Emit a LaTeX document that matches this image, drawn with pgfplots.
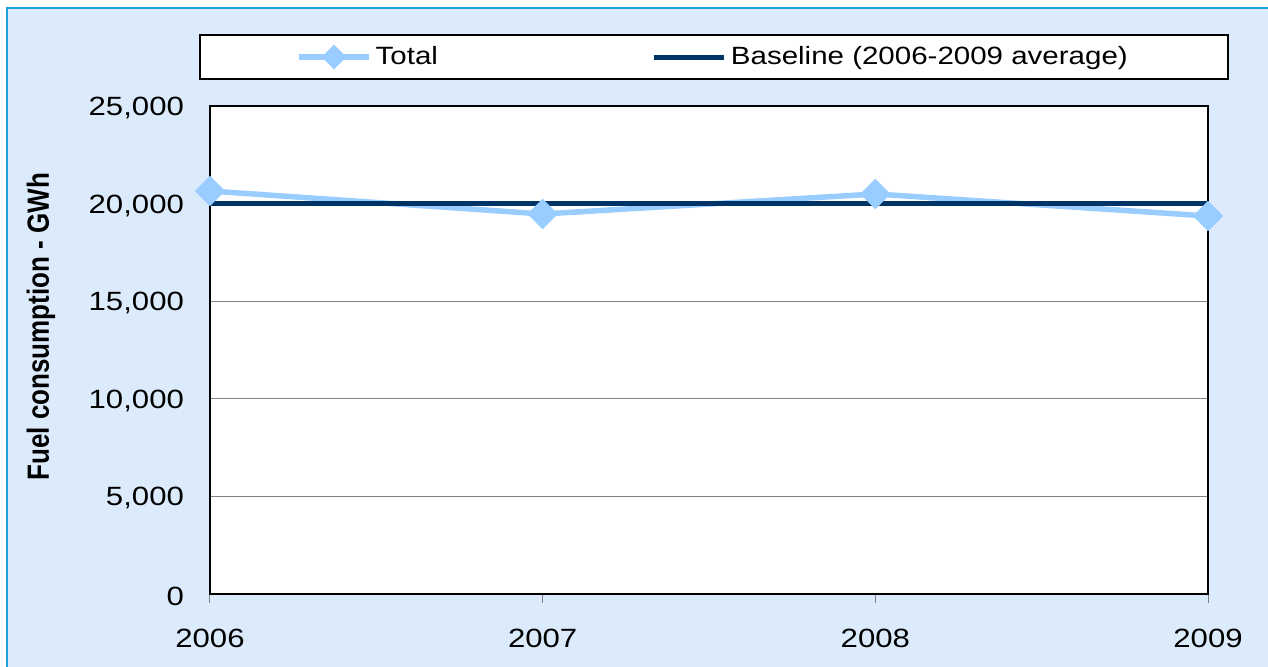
\documentclass[border=0pt]{standalone}
\usepackage{fontspec}
\setmainfont{Liberation Sans}[FakeStretch=1.18]
\newfontfamily\labfont{Liberation Sans}
\usepackage{graphicx}
\usepackage{pgfplots}
\pgfplotsset{compat=1.18}
\definecolor{bgblue}{HTML}{DCEBFC}
\definecolor{frameblue}{HTML}{1BA1E2}
\definecolor{totalblue}{HTML}{99CCFF}
\definecolor{basenavy}{HTML}{003366}
\begin{document}
\begin{tikzpicture}
\path[use as bounding box] (0,0) rectangle (634pt,333pt);
\clip (0,0) rectangle (634pt,333pt);
\fill[bgblue] (3.5pt,-10pt) rectangle (650pt,329pt);
\draw[frameblue, line width=0.6pt] (3.5pt,-10pt) -- (3.5pt,329pt) -- (650pt,329pt);
\begin{axis}[
  at={(105pt,36pt)}, anchor=south west,
  scale only axis, width=499pt, height=244pt,
  xmin=0, xmax=3, ymin=0, ymax=25000,
  xtick={0,1,2,3}, xticklabels={2006,2007,2008,2009},
  ytick={0,5000,10000,15000,20000,25000},
  scaled y ticks=false,
  /pgf/number format/fixed,
  /pgf/number format/1000 sep={,},
  /pgf/number format/assume math mode=true,
  axis background/.style={fill=white},
  axis line style={black, line width=1pt},
  xtick pos=bottom, ytick pos=left,
  tick align=outside, major tick length=4.5pt,
  xtick style={gray, line width=0.5pt},
  ytick style={draw=none},
  ymajorgrids, grid style={color=gray, line width=0.5pt},
  clip=false,
  tick label style={font=\fontsize{13.2}{15}\selectfont},
  yticklabel style={xshift=-5pt, yshift=-1pt},
  xticklabel style={yshift=-9.7pt},
  ylabel={\scalebox{1}[1.18]{\labfont\bfseries\fontsize{13}{15}\selectfont Fuel consumption - GWh}},
  every axis y label/.style={at={(axis description cs:0,0.548)}, xshift=-84.5pt, rotate=90, anchor=center},
  legend columns=2,
  legend image code/.code={\draw[mark repeat=2,mark phase=2,#1,mark size=3pt] plot coordinates {(0pt,0pt) (17.5pt,0pt) (35pt,0pt)};},
  legend style={at={(axis description cs:0.505,1.1004)}, anchor=center,
    draw=black, line width=1pt, fill=white,
    inner xsep=48pt, inner ysep=3.5pt,
    font=\fontsize{12.5}{14}\selectfont,
    /tikz/every even column/.append style={column sep=105pt}},
]
\addplot[totalblue, line width=2.75pt, mark=square*, mark size=4pt, mark options={rotate=45, solid}]
  coordinates {(0,20645) (1,19467) (2,20492) (3,19365)};
\addlegendentry{Total}
\addplot[basenavy, line width=2.5pt]
  coordinates {(0,19990) (1,19990) (2,19990) (3,19990)};
\addlegendentry{Baseline (2006-2009 average)}
\end{axis}
\end{tikzpicture}
\end{document}
